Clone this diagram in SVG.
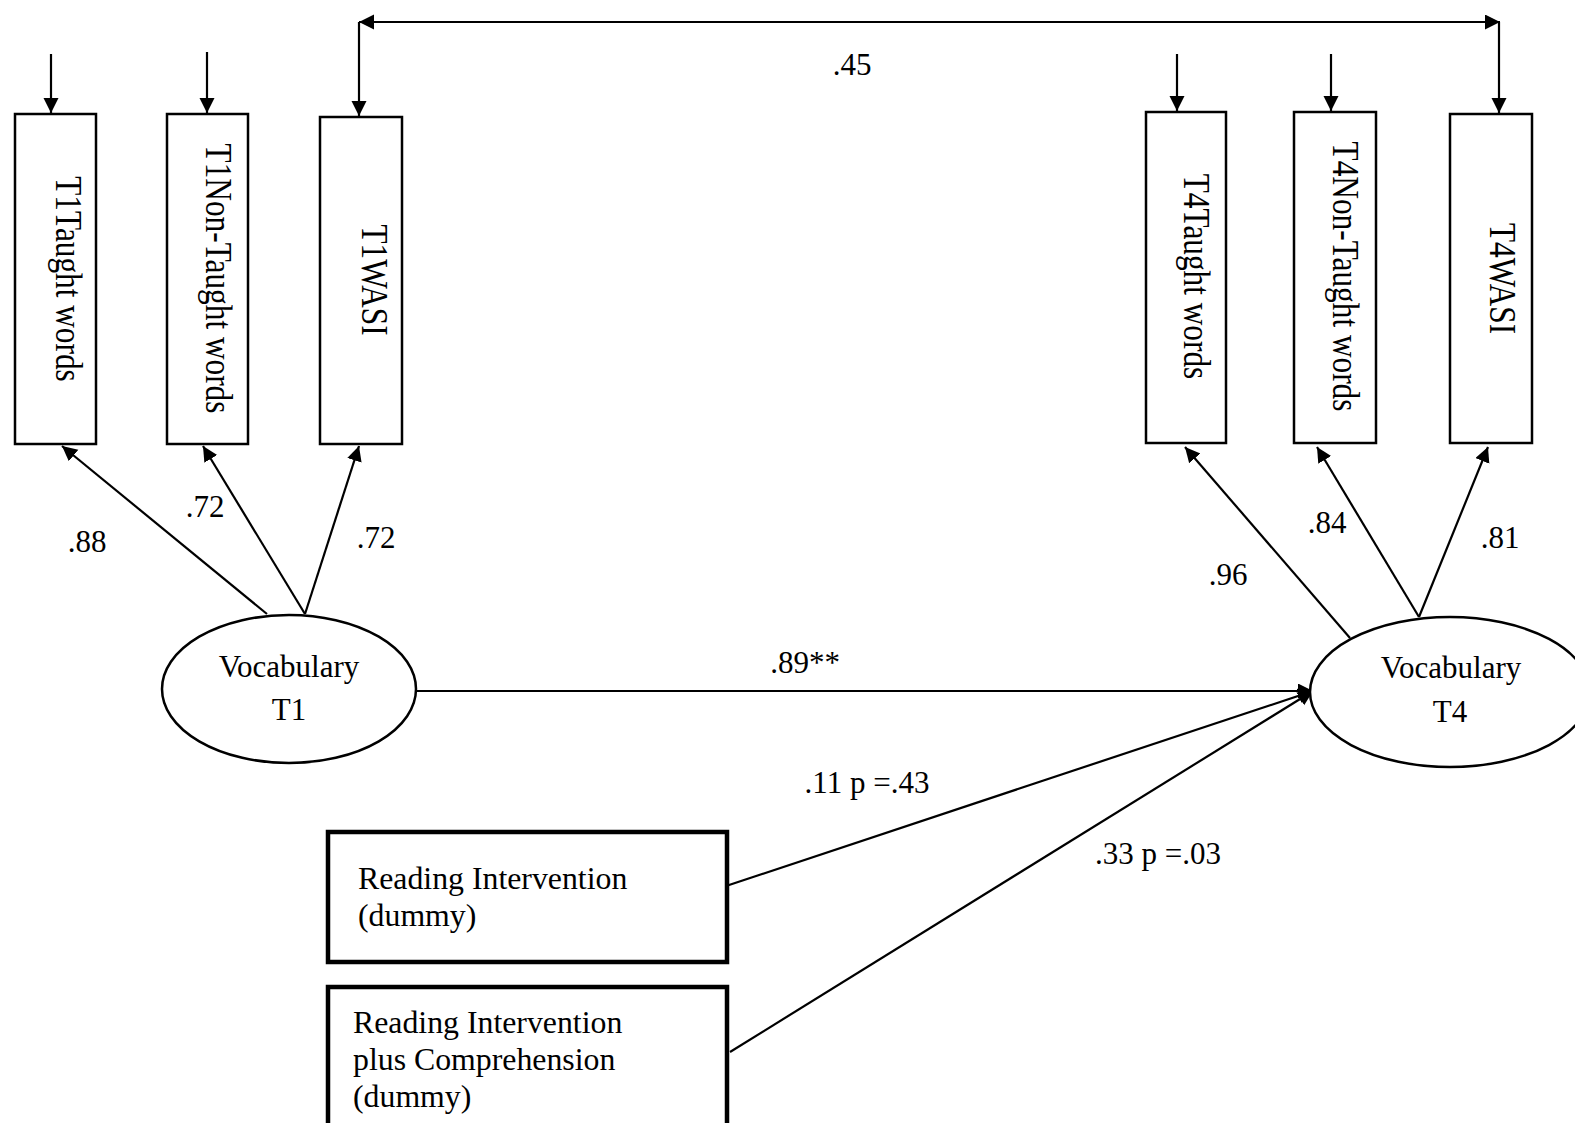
<svg xmlns="http://www.w3.org/2000/svg" width="1575" height="1123" viewBox="0 0 1575 1123">
<defs>
<style>
text{font-family:"Liberation Serif","Times New Roman",serif;fill:#000}
.box{fill:#fff;stroke:#000;stroke-width:2.5}
.tbox{fill:#fff;stroke:#000;stroke-width:4.5}
.ell{fill:#fff;stroke:#000;stroke-width:2.5}
.c{fill:none;stroke:#000;stroke-width:2.2}
.lbl{font-size:31px;text-anchor:middle}
.rot{font-size:31.3px;text-anchor:middle}
.ev{font-size:31px;text-anchor:middle}
.bt{font-size:31.8px}
</style>
<marker id="ah" markerUnits="userSpaceOnUse" markerWidth="16" markerHeight="16" viewBox="0 0 16 16" refX="15" refY="7.5" orient="auto-start-reverse">
<path d="M0,0 L15,7.5 L0,15 z" fill="#000"/>
</marker>
</defs>
<rect x="0" y="0" width="1575" height="1123" fill="#fff"/>

<g id="connectors">
<line class="c" x1="51" y1="54" x2="51" y2="113" marker-end="url(#ah)"/>
<line class="c" x1="207" y1="52" x2="207" y2="113" marker-end="url(#ah)"/>
<line class="c" x1="1177" y1="54" x2="1177" y2="111" marker-end="url(#ah)"/>
<line class="c" x1="1331" y1="54" x2="1331" y2="111" marker-end="url(#ah)"/>
<line class="c" x1="359" y1="22" x2="1500" y2="22" marker-start="url(#ah)" marker-end="url(#ah)"/>
<line class="c" x1="359" y1="22" x2="359" y2="116" marker-end="url(#ah)"/>
<line class="c" x1="1499" y1="22" x2="1499" y2="113" marker-end="url(#ah)"/>
<line class="c" x1="267" y1="614" x2="62" y2="446" marker-end="url(#ah)"/>
<line class="c" x1="305" y1="614" x2="203" y2="446" marker-end="url(#ah)"/>
<line class="c" x1="305" y1="614" x2="359" y2="446" marker-end="url(#ah)"/>
<line class="c" x1="1350" y1="638" x2="1185" y2="447" marker-end="url(#ah)"/>
<line class="c" x1="1419" y1="617" x2="1317" y2="447" marker-end="url(#ah)"/>
<line class="c" x1="1419" y1="617" x2="1488" y2="447" marker-end="url(#ah)"/>
<line class="c" x1="416" y1="691" x2="1313" y2="691" marker-end="url(#ah)"/>
<line class="c" x1="723" y1="887" x2="1313" y2="691" marker-end="url(#ah)"/>
<line class="c" x1="730" y1="1052" x2="1313" y2="691" marker-end="url(#ah)"/>
<text class="lbl" x="852" y="75">.45</text>
<text class="lbl" x="87" y="552">.88</text>
<text class="lbl" x="205" y="517">.72</text>
<text class="lbl" x="376" y="548">.72</text>
<text class="lbl" x="1228" y="585">.96</text>
<text class="lbl" x="1327" y="533">.84</text>
<text class="lbl" x="1500" y="548">.81</text>
<text class="lbl" x="805" y="673">.89**</text>
<text class="lbl" x="867" y="793">.11 p =.43</text>
<text class="lbl" x="1158" y="864">.33 p =.03</text>
</g>

<g id="t1taught">
<rect class="box" x="15" y="114" width="81" height="330"/>
<text class="rot" transform="translate(55.5,279) rotate(90) scale(1,1.2)">T1Taught words</text>
</g>
<g id="t1nontaught">
<rect class="box" x="167" y="114" width="81" height="330"/>
<text class="rot" transform="translate(206,278.5) rotate(90) scale(1,1.2)">T1Non-Taught words</text>
</g>
<g id="t1wasi">
<rect class="box" x="320" y="117" width="82" height="327"/>
<text class="rot" transform="translate(362,280) rotate(90) scale(1,1.2)">T1WASI</text>
</g>
<g id="t4taught">
<rect class="box" x="1146" y="112" width="80" height="331"/>
<text class="rot" transform="translate(1184,276.5) rotate(90) scale(1,1.2)">T4Taught words</text>
</g>
<g id="t4nontaught">
<rect class="box" x="1294" y="112" width="82" height="331"/>
<text class="rot" transform="translate(1333,276.5) rotate(90) scale(1,1.2)">T4Non-Taught words</text>
</g>
<g id="t4wasi">
<rect class="box" x="1450" y="114" width="82" height="329"/>
<text class="rot" transform="translate(1490,278.5) rotate(90) scale(1,1.2)">T4WASI</text>
</g>

<g id="vocabt1">
<ellipse class="ell" cx="289" cy="689" rx="127" ry="74"/>
<text class="ev" x="289" y="677">Vocabulary</text>
<text class="ev" x="289" y="720">T1</text>
</g>
<g id="vocabt4">
<ellipse class="ell" cx="1450" cy="692" rx="140" ry="75"/>
<text class="ev" x="1451" y="678">Vocabulary</text>
<text class="ev" x="1450" y="722">T4</text>
</g>

<g id="readint">
<rect class="tbox" x="328" y="832" width="399" height="130"/>
<text class="bt" x="358" y="889">Reading Intervention</text>
<text class="bt" x="358" y="926">(dummy)</text>
</g>
<g id="readintcomp">
<rect class="tbox" x="328" y="987" width="399" height="160"/>
<text class="bt" x="353" y="1033">Reading Intervention</text>
<text class="bt" x="353" y="1070">plus Comprehension</text>
<text class="bt" x="353" y="1107">(dummy)</text>
</g>
</svg>
